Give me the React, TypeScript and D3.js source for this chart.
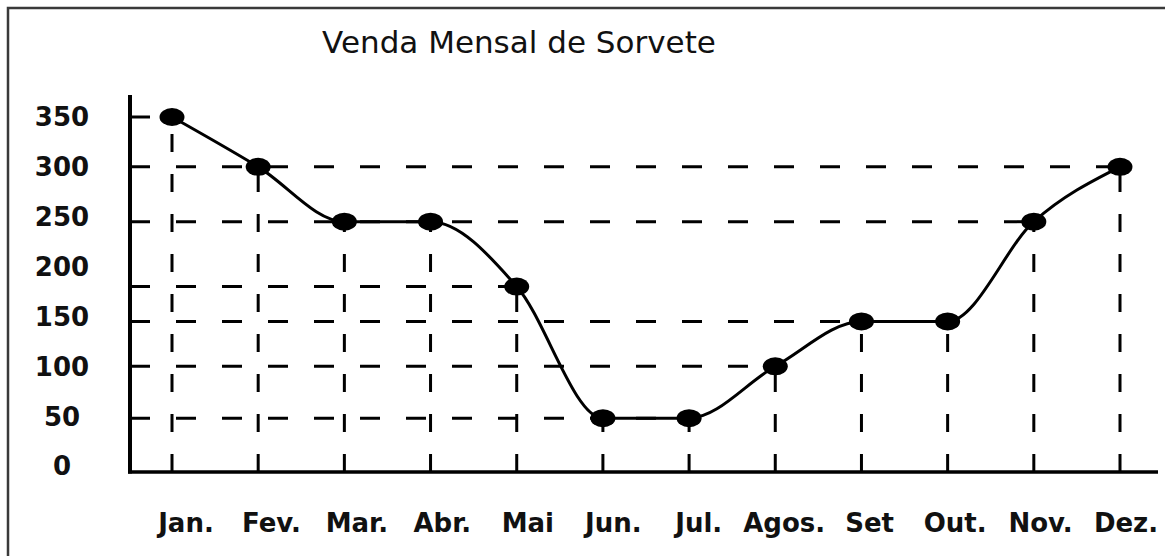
import React, { useEffect, useRef } from 'react';
import * as d3 from 'd3';

const title = 'Venda Mensal de Sorvete';
const months = ['Jan.', 'Fev.', 'Mar.', 'Abr.', 'Mai', 'Jun.', 'Jul.', 'Agos.', 'Set', 'Out.', 'Nov.', 'Dez.'];
const sales = [350, 300, 245, 245, 180, 48, 48, 100, 145, 145, 245, 300];
const yTicks = [0, 50, 100, 150, 200, 250, 300, 350];

function App() {
  const d3Container = useRef<SVGSVGElement>(null);

  useEffect(() => {
    if (!d3Container.current) return;
    const width = 1165;
    const height = 556;
    const font = '"DejaVu Sans", Verdana, sans-serif';

    const svg = d3.select(d3Container.current);
    svg.selectAll('*').remove();
    svg.attr('width', width).attr('height', height);

    const data = months.map((m, i) => ({ month: m, value: sales[i] }));

    const axisX = 130;
    const axisY = 472;
    const x = d3.scalePoint<string>().domain(months).range([172, 1120]);
    const xLabel = d3.scalePoint<string>().domain(months).range([186, 1126]);
    const y = d3.scaleLinear().domain([0, 350]).range([466, 117]);

    svg.append('rect').attr('width', width).attr('height', height).attr('fill', '#fff');

    // frame, cropped at right and bottom
    svg.append('path')
      .attr('d', `M8,${height} V8 H${width}`)
      .attr('fill', 'none')
      .attr('stroke', '#3a3a3a')
      .attr('stroke-width', 2.5);

    // title
    svg.append('text')
      .attr('x', 519)
      .attr('y', 53)
      .attr('text-anchor', 'middle')
      .attr('font-family', font)
      .attr('font-size', 31)
      .attr('fill', '#111')
      .text(title);

    // horizontal drop lines (only the farthest point for a value)
    const horiz = data.filter((d, i) => !data.slice(i + 1).some((e) => e.value === d.value));
    svg.selectAll('.hdrop')
      .data(horiz)
      .join('line')
      .attr('class', 'hdrop')
      .attr('x1', axisX)
      .attr('x2', (d) => x(d.month)!)
      .attr('y1', (d) => y(d.value))
      .attr('y2', (d) => y(d.value))
      .attr('stroke', '#000')
      .attr('stroke-width', 3)
      .attr('stroke-dasharray', '20 26');

    // vertical drop lines
    svg.selectAll('.vdrop')
      .data(data)
      .join('line')
      .attr('class', 'vdrop')
      .attr('x1', (d) => x(d.month)!)
      .attr('x2', (d) => x(d.month)!)
      .attr('y1', axisY)
      .attr('y2', (d) => y(d.value))
      .attr('stroke', '#000')
      .attr('stroke-width', 3)
      .attr('stroke-dasharray', '18 22');

    // axes
    svg.append('line')
      .attr('x1', axisX).attr('x2', axisX)
      .attr('y1', 95).attr('y2', axisY + 1.5)
      .attr('stroke', '#000').attr('stroke-width', 4);
    svg.append('line')
      .attr('x1', axisX - 2).attr('x2', 1158)
      .attr('y1', axisY).attr('y2', axisY)
      .attr('stroke', '#000').attr('stroke-width', 3.5);

    // y labels
    svg.selectAll('.ylab')
      .data(yTicks)
      .join('text')
      .attr('class', 'ylab')
      .attr('x', 62)
      .attr('y', (d) => y(d))
      .attr('dy', '0.36em')
      .attr('text-anchor', 'middle')
      .attr('font-family', font)
      .attr('font-weight', 'bold')
      .attr('font-size', 26)
      .attr('fill', '#111')
      .text((d) => d);

    // x labels
    svg.selectAll('.xlab')
      .data(months)
      .join('text')
      .attr('class', 'xlab')
      .attr('x', (d) => xLabel(d)!)
      .attr('y', 532)
      .attr('text-anchor', 'middle')
      .attr('font-family', font)
      .attr('font-weight', 'bold')
      .attr('font-size', 26)
      .attr('fill', '#111')
      .text((d) => d);

    // sales line
    const line = d3.line<{ month: string; value: number }>()
      .x((d) => x(d.month)!)
      .y((d) => y(d.value))
      .curve(d3.curveMonotoneX);

    svg.append('path')
      .datum(data)
      .attr('d', line)
      .attr('fill', 'none')
      .attr('stroke', '#000')
      .attr('stroke-width', 3);

    // markers
    svg.selectAll('.dot')
      .data(data)
      .join('ellipse')
      .attr('class', 'dot')
      .attr('cx', (d) => x(d.month)!)
      .attr('cy', (d) => y(d.value))
      .attr('rx', 12.5)
      .attr('ry', 9)
      .attr('fill', '#000');
  }, []);

  return (
    <svg
      ref={d3Container}
      style={{ position: 'absolute', left: 0, top: 0, display: 'block' }}
    />
  );
}

export default App;
